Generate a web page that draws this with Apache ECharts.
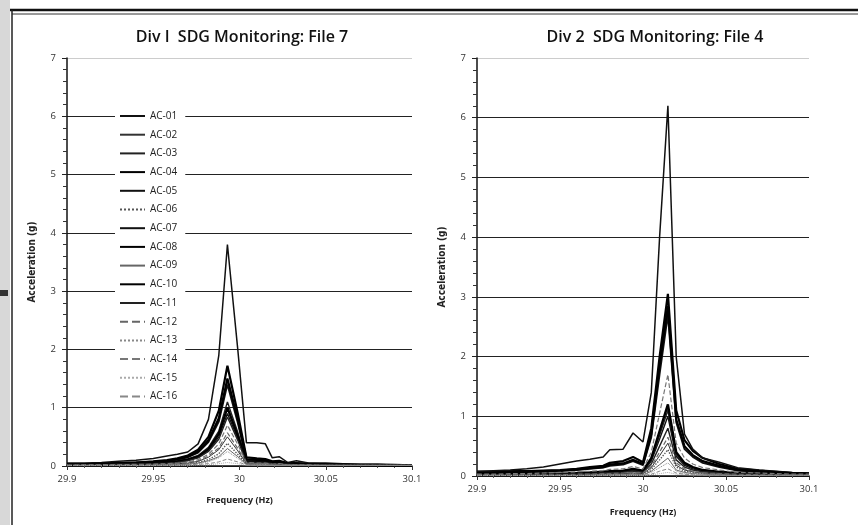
<!DOCTYPE html>
<html><head><meta charset="utf-8">
<script src="https://cdn.jsdelivr.net/npm/echarts@6/dist/echarts.min.js"></script>
<style>html,body{margin:0;padding:0;background:#fff}#c{width:858px;height:525px}</style>
</head><body><div id="c"></div>
<script>
const names = ['AC-01','AC-02','AC-03','AC-04','AC-05','AC-06','AC-07','AC-08','AC-09','AC-10','AC-11','AC-12','AC-13','AC-14','AC-15','AC-16'];
const yTicks = [0,1,2,3,4,5,6,7];
const xTicks = [29.9,29.95,30,30.05,30.1];
const titleLeft = 'Div I  SDG Monitoring: File 7';
const titleRight = 'Div 2  SDG Monitoring: File 4';

// Left chart (File 7) frequencies and accelerations
const freqL = [29.9,29.91,29.92,29.93,29.94,29.95,29.958,29.964,29.97,29.976,29.982,29.988,29.993,29.999,30.004,30.01,30.015,30.019,30.023,30.028,30.033,30.04,30.05,30.06,30.07,30.08,30.09,30.1];
const L01 = [0.02,0.02,0.02,0.03,0.03,0.04,0.05,0.07,0.10,0.15,0.26,0.50,0.90,0.47,0.07,0.06,0.06,0.04,0.04,0.03,0.03,0.02,0.02,0.02,0.01,0.01,0.01,0.01];
const L02 = [0.01,0.01,0.01,0.02,0.02,0.02,0.03,0.04,0.05,0.08,0.15,0.28,0.50,0.26,0.04,0.04,0.04,0.02,0.03,0.02,0.02,0.01,0.01,0.01,0.01,0.01,0.01,0.01];
const L03 = [0.02,0.02,0.03,0.03,0.04,0.05,0.07,0.09,0.12,0.18,0.32,0.60,1.10,0.58,0.09,0.08,0.07,0.05,0.05,0.03,0.03,0.02,0.02,0.02,0.02,0.01,0.01,0.01];
const L04 = [0.03,0.03,0.04,0.05,0.06,0.08,0.10,0.13,0.18,0.28,0.50,0.95,1.72,0.90,0.15,0.13,0.12,0.08,0.09,0.05,0.05,0.04,0.03,0.03,0.02,0.02,0.02,0.01];
const L05 = [0.02,0.03,0.03,0.04,0.05,0.06,0.08,0.11,0.15,0.23,0.41,0.76,1.40,0.74,0.11,0.10,0.09,0.06,0.07,0.04,0.04,0.03,0.02,0.02,0.02,0.02,0.01,0.01];
const L06 = [0.01,0.01,0.01,0.01,0.02,0.02,0.02,0.03,0.04,0.06,0.11,0.21,0.39,0.20,0.03,0.03,0.03,0.02,0.02,0.01,0.01,0.01,0.01,0.01,0.01,0.01,0.01,0.01];
const L07 = [0.05,0.05,0.06,0.08,0.10,0.13,0.17,0.20,0.24,0.38,0.80,1.90,3.80,2.00,0.40,0.40,0.38,0.14,0.16,0.06,0.09,0.05,0.05,0.04,0.03,0.03,0.02,0.02];
const L08 = [0.03,0.03,0.04,0.05,0.06,0.07,0.09,0.12,0.16,0.25,0.44,0.82,1.50,0.80,0.12,0.11,0.10,0.07,0.07,0.04,0.04,0.03,0.03,0.02,0.02,0.02,0.01,0.01];
const L09 = [0.01,0.01,0.01,0.01,0.01,0.01,0.02,0.02,0.03,0.05,0.09,0.16,0.30,0.16,0.03,0.02,0.02,0.01,0.02,0.01,0.01,0.01,0.01,0.01,0.01,0.01,0.01,0.01];
const L10 = [0.02,0.02,0.02,0.03,0.04,0.05,0.06,0.08,0.11,0.16,0.29,0.55,1.00,0.52,0.08,0.07,0.07,0.05,0.05,0.03,0.03,0.02,0.02,0.02,0.01,0.01,0.01,0.01];
const L11 = [0.02,0.02,0.02,0.03,0.03,0.04,0.05,0.06,0.09,0.14,0.25,0.46,0.84,0.44,0.07,0.06,0.06,0.04,0.04,0.03,0.02,0.02,0.02,0.01,0.01,0.01,0.01,0.01];
const L12 = [0.01,0.01,0.02,0.02,0.02,0.03,0.03,0.04,0.06,0.09,0.17,0.31,0.57,0.30,0.05,0.04,0.04,0.03,0.03,0.02,0.02,0.01,0.01,0.01,0.01,0.01,0.01,0.01];
const L13 = [0.01,0.01,0.01,0.01,0.01,0.01,0.02,0.02,0.03,0.04,0.07,0.14,0.25,0.13,0.02,0.02,0.02,0.01,0.01,0.01,0.01,0.01,0.01,0.01,0.01,0.01,0.01,0.01];
const L14 = [0.01,0.02,0.02,0.02,0.03,0.03,0.04,0.05,0.07,0.11,0.20,0.38,0.70,0.37,0.06,0.05,0.05,0.03,0.04,0.02,0.02,0.02,0.01,0.01,0.01,0.01,0.01,0.01];
const L15 = [0.01,0.01,0.01,0.01,0.01,0.01,0.01,0.01,0.01,0.02,0.02,0.04,0.06,0.04,0.01,0.01,0.01,0.01,0.01,0.01,0.01,0.01,0.01,0.01,0.01,0.01,0.01,0.01];
const L16 = [0.01,0.01,0.01,0.01,0.01,0.01,0.01,0.01,0.02,0.03,0.04,0.07,0.12,0.07,0.02,0.01,0.01,0.01,0.01,0.01,0.01,0.01,0.01,0.01,0.01,0.01,0.01,0.01];

// Right chart (File 4)
const freqR = [29.9,29.91,29.92,29.93,29.94,29.95,29.96,29.968,29.976,29.98,29.988,29.994,30.0,30.005,30.01,30.015,30.02,30.025,30.03,30.036,30.046,30.057,30.07,30.08,30.09,30.1];
const R01 = [0.02,0.02,0.02,0.03,0.03,0.03,0.04,0.05,0.06,0.07,0.07,0.10,0.07,0.25,0.62,1.00,0.33,0.18,0.12,0.08,0.06,0.04,0.03,0.03,0.02,0.02];
const R02 = [0.01,0.01,0.02,0.02,0.02,0.02,0.02,0.03,0.03,0.04,0.04,0.05,0.04,0.14,0.34,0.55,0.18,0.10,0.07,0.05,0.03,0.02,0.02,0.02,0.01,0.01];
const R03 = [0.02,0.02,0.03,0.03,0.03,0.04,0.05,0.05,0.06,0.07,0.08,0.11,0.08,0.27,0.68,1.10,0.36,0.20,0.14,0.09,0.07,0.04,0.03,0.03,0.02,0.02];
const R04 = [0.07,0.07,0.08,0.08,0.09,0.10,0.12,0.15,0.17,0.22,0.25,0.32,0.23,0.80,2.00,3.05,1.10,0.60,0.42,0.30,0.20,0.12,0.09,0.07,0.05,0.04];
const R05 = [0.05,0.05,0.05,0.06,0.07,0.08,0.10,0.12,0.14,0.17,0.19,0.25,0.18,0.65,1.70,2.70,0.90,0.45,0.32,0.22,0.15,0.09,0.07,0.05,0.04,0.03];
const R06 = [0.01,0.01,0.01,0.01,0.02,0.02,0.02,0.02,0.03,0.03,0.03,0.04,0.03,0.11,0.27,0.44,0.15,0.08,0.06,0.04,0.03,0.02,0.02,0.01,0.01,0.01];
const R07 = [0.08,0.09,0.10,0.12,0.15,0.20,0.25,0.28,0.32,0.44,0.45,0.72,0.57,1.40,4.00,6.20,2.00,0.70,0.45,0.30,0.23,0.14,0.10,0.08,0.06,0.05];
const R08 = [0.05,0.05,0.06,0.07,0.08,0.09,0.11,0.13,0.15,0.19,0.21,0.27,0.20,0.70,1.85,2.85,0.95,0.50,0.35,0.25,0.17,0.10,0.08,0.06,0.05,0.04];
const R09 = [0.01,0.01,0.01,0.01,0.01,0.01,0.02,0.02,0.02,0.02,0.02,0.03,0.02,0.08,0.19,0.30,0.10,0.06,0.04,0.03,0.02,0.02,0.01,0.01,0.01,0.01];
const R10 = [0.03,0.03,0.03,0.03,0.04,0.04,0.05,0.06,0.07,0.08,0.09,0.12,0.09,0.30,0.75,1.20,0.40,0.22,0.15,0.10,0.07,0.05,0.04,0.03,0.03,0.02];
const R11 = [0.02,0.02,0.02,0.02,0.03,0.03,0.03,0.04,0.05,0.05,0.06,0.08,0.06,0.20,0.50,0.80,0.27,0.15,0.10,0.07,0.05,0.03,0.03,0.02,0.02,0.02];
const R12 = [0.02,0.02,0.02,0.02,0.02,0.02,0.03,0.03,0.04,0.04,0.05,0.06,0.05,0.16,0.40,0.65,0.22,0.12,0.08,0.05,0.04,0.03,0.02,0.02,0.02,0.01];
const R13 = [0.01,0.01,0.01,0.01,0.01,0.01,0.01,0.01,0.02,0.02,0.02,0.02,0.02,0.06,0.14,0.22,0.08,0.04,0.03,0.02,0.02,0.01,0.01,0.01,0.01,0.01];
const R14 = [0.03,0.03,0.04,0.04,0.05,0.06,0.07,0.08,0.09,0.11,0.12,0.16,0.12,0.40,1.05,1.70,0.55,0.30,0.20,0.14,0.10,0.06,0.05,0.04,0.03,0.03];
const R15 = [0.01,0.01,0.01,0.01,0.01,0.01,0.01,0.01,0.01,0.01,0.01,0.01,0.01,0.02,0.04,0.06,0.03,0.02,0.01,0.01,0.01,0.01,0.01,0.01,0.01,0.01];
const R16 = [0.01,0.01,0.01,0.01,0.01,0.01,0.01,0.01,0.01,0.01,0.01,0.02,0.01,0.03,0.08,0.12,0.05,0.03,0.02,0.01,0.01,0.01,0.01,0.01,0.01,0.01];

const leftVals = [L01,L02,L03,L04,L05,L06,L07,L08,L09,L10,L11,L12,L13,L14,L15,L16];
const rightVals = [R01,R02,R03,R04,R05,R06,R07,R08,R09,R10,R11,R12,R13,R14,R15,R16];

const styles = [
  {color:'#111', width:1.4, type:'solid'},
  {color:'#333', width:1, type:'solid'},
  {color:'#222', width:1.4, type:'solid'},
  {color:'#000', width:2.2, type:'solid'},
  {color:'#111', width:1.8, type:'solid'},
  {color:'#555', width:1.4, type:'dotted'},
  {color:'#111', width:1.5, type:'solid'},
  {color:'#000', width:2.2, type:'solid'},
  {color:'#666', width:1, type:'solid'},
  {color:'#000', width:2.4, type:'solid'},
  {color:'#222', width:1.4, type:'solid'},
  {color:'#666', width:1.2, type:'dashed'},
  {color:'#888', width:1, type:'dotted'},
  {color:'#777', width:1.2, type:'dashed'},
  {color:'#aaa', width:1, type:'dotted'},
  {color:'#888', width:1, type:'dashed'}
];

const font = "'Open Sans', 'DejaVu Sans', sans-serif";
const narrow = "'Liberation Sans Narrow', 'DejaVu Sans Condensed', 'Liberation Sans', sans-serif";

function xAx(gi, nameGap) {
  return {
    type:'value', gridIndex:gi, min:xTicks[0], max:xTicks[xTicks.length-1], interval:0.05,
    name:'Frequency (Hz)', nameLocation:'middle', nameGap:nameGap,
    nameTextStyle:{fontFamily:font, fontSize:9, fontWeight:'bold', color:'#222'},
    axisLine:{show:true, onZero:false, lineStyle:{color:'#111', width:1.5}},
    axisTick:{show:true, length:4, lineStyle:{color:'#333'}},
    minorTick:{show:true, splitNumber:5, length:2, lineStyle:{color:'#555'}},
    axisLabel:{fontFamily:font, fontSize:9.5, color:'#333', margin:8},
    splitLine:{show:false}
  };
}
function yAx(gi) {
  return {
    type:'value', gridIndex:gi, min:yTicks[0], max:yTicks[yTicks.length-1], interval:1,
    name:'Acceleration (g)', nameLocation:'middle', nameGap:30,
    nameTextStyle:{fontFamily:narrow, fontSize:10, fontWeight:'bold', color:'#222'},
    axisLine:{show:true, lineStyle:{color:'#111', width:1.5}},
    axisTick:{show:true, length:5, lineStyle:{color:'#222'}},
    minorTick:{show:true, splitNumber:5, length:4, lineStyle:{color:'#333'}},
    axisLabel:{fontFamily:font, fontSize:9.5, color:'#333', margin:11},
    splitLine:{show:true, lineStyle:{color:['#222','#222','#222','#222','#222','#222','#222','#ccc'], width:1.2}}
  };
}

const series = [];
leftVals.forEach((vals, i) => {
  series.push({name:names[i], type:'line', xAxisIndex:0, yAxisIndex:0, symbol:'none',
    lineStyle:styles[i], itemStyle:{color:styles[i].color},
    data: freqL.map((f, k) => [f, vals[k]])});
});
rightVals.forEach((vals, i) => {
  series.push({name:names[i] + ' ', type:'line', xAxisIndex:1, yAxisIndex:1, symbol:'none',
    lineStyle:styles[i], itemStyle:{color:styles[i].color},
    data: freqR.map((f, k) => [f, vals[k]])});
});

const chart = echarts.init(document.getElementById('c'), null, {renderer:'canvas'});
chart.setOption({
  backgroundColor:'#fff',
  animation:false,
  title:[
    {text:titleLeft, left:237, top:24, textAlign:'center', textStyle:{fontFamily:font, fontSize:16, fontWeight:600, color:'#111'}},
    {text:titleRight, left:650, top:24, textAlign:'center', textStyle:{fontFamily:font, fontSize:16, fontWeight:600, color:'#111'}}
  ],
  legend:{
    type:'plain', data:names, orient:'vertical', left:115, top:108, width:80, height:330,
    itemWidth:25, itemHeight:10, itemGap:8.7,
    itemStyle:{color:'rgba(0,0,0,0)', borderWidth:0, opacity:0},
    backgroundColor:'#fff', padding:[3,8,3,4],
    textStyle:{fontFamily:font, fontSize:10, color:'#222'}, selectedMode:false
  },
  grid:[
    {left:67, right:446, top:58, bottom:59, containLabel:false},
    {left:477, right:49, top:58, bottom:49, containLabel:false}
  ],
  xAxis:[xAx(0, 30), xAx(1, 32)],
  yAxis:[yAx(0), yAx(1)],
  series:series,
  graphic:[
    {type:'rect', shape:{x:0, y:0, width:10, height:525}, style:{fill:'#d8d8d8'}, silent:true},
    {type:'rect', shape:{x:0, y:290, width:8, height:6}, style:{fill:'#333'}, silent:true},
    {type:'line', shape:{x1:10, y1:10, x2:858, y2:10}, style:{stroke:'#111', lineWidth:2.5}, silent:true},
    {type:'line', shape:{x1:12, y1:14, x2:858, y2:14}, style:{stroke:'#333', lineWidth:1}, silent:true},
    {type:'line', shape:{x1:12, y1:10, x2:12, y2:525}, style:{stroke:'#222', lineWidth:1.5}, silent:true}
  ]
});
</script></body></html>
